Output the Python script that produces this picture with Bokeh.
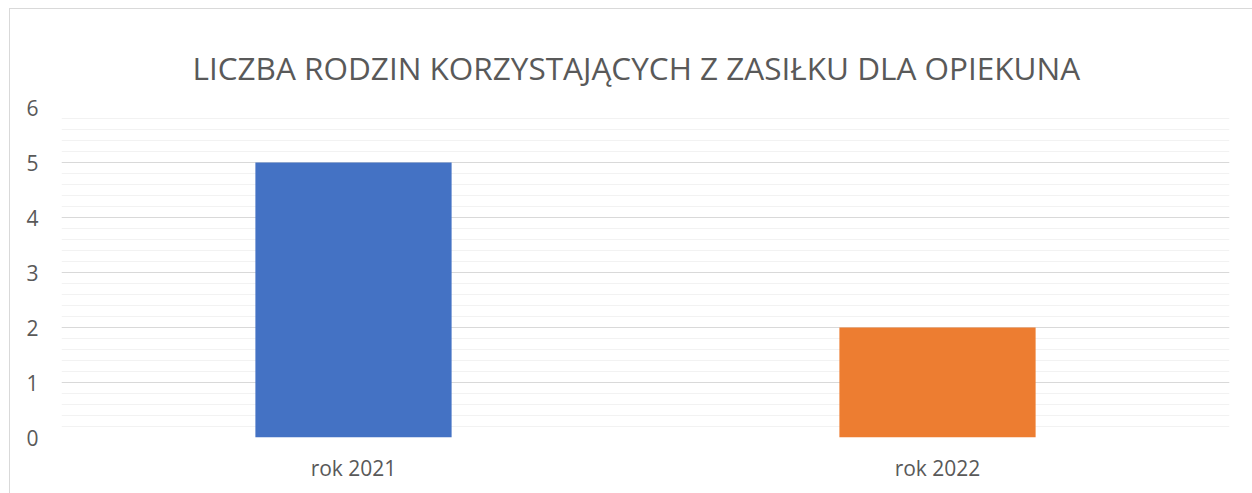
from bokeh.plotting import figure
from bokeh.models import ColumnDataSource, FixedTicker
from bokeh.embed import file_html
from bokeh.resources import INLINE

title_text = "LICZBA RODZIN KORZYSTAJĄCYCH Z ZASIŁKU DLA OPIEKUNA"
categories = ["rok 2021", "rok 2022"]
counts = [5, 2]
bar_colors = ["#4472C4", "#ED7D31"]
y_ticks = [0, 1, 2, 3, 4, 5, 6]
y_minor_ticks = [i / 5 for i in range(0, 31)]

FONT = "Open Sans"
TXT = "#595959"

src = ColumnDataSource(dict(cat=categories, val=counts, color=bar_colors))

p = figure(
    x_range=categories, y_range=(0, 6),
    width=1252, height=493,
    output_backend="svg", toolbar_location=None,
    min_border_left=61, min_border_right=23,
    min_border_top=107, min_border_bottom=56,
    title=title_text,
)
p.outline_line_color = None
p.background_fill_color = "white"
p.border_fill_color = None
p.styles = {
    "background-color": "white",
    "background-image": "linear-gradient(#d9d9d9, #d9d9d9), linear-gradient(#d9d9d9, #d9d9d9)",
    "background-repeat": "no-repeat, no-repeat",
    "background-position": "9px 8px, 9px 8px",
    "background-size": "1243px 1px, 1px 485px",
}

p.title.align = "left"
p.title.offset = 131
p.title.vertical_align = "middle"
p.title.text_font = FONT
p.title.text_font_size = "31.5px"
p.title.text_font_style = "normal"
p.title.text_color = TXT
p.title.standoff = 36

p.vbar(x="cat", top="val", width=0.336, color="color", source=src, line_color=None)

p.xgrid.grid_line_color = None
p.ygrid.grid_line_color = "#d9d9d9"
p.ygrid.grid_line_width = 1
p.ygrid.minor_grid_line_color = "#f2f2f2"
p.ygrid.minor_grid_line_width = 1
p.yaxis.ticker = FixedTicker(ticks=y_ticks, minor_ticks=y_minor_ticks)

for ax in (p.xaxis, p.yaxis):
    ax.axis_line_color = None
    ax.major_tick_line_color = None
    ax.minor_tick_line_color = None
    ax.major_label_text_font = FONT
    ax.major_label_text_font_size = "21px"
    ax.major_label_text_color = TXT

p.yaxis.major_label_standoff = 17
p.xaxis.major_label_standoff = 10

open("out.html", "w").write(file_html(p, INLINE))
